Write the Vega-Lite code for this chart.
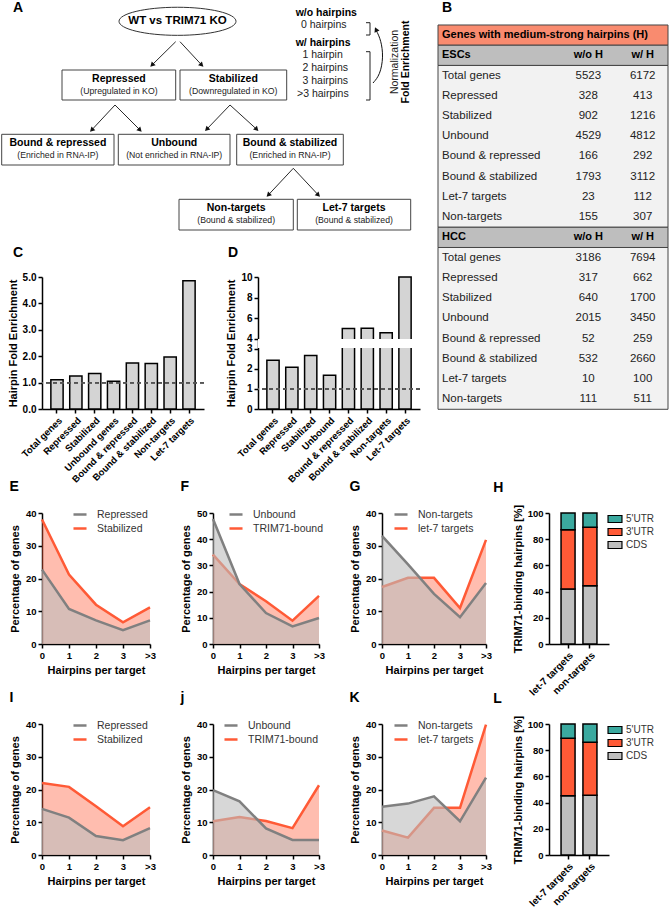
{
"$schema":"https://vega.github.io/schema/vega-lite/v6.json",
"background":"white",
"padding":{"left":1,"top":0,"right":0,"bottom":0},
"config":{
 "view":{"stroke":null},
 "font":"Liberation Sans",
 "axis":{"domainColor":"#000","domainWidth":1.5,"tickColor":"#000","tickWidth":1.5,"tickSize":4,"labelColor":"#000","labelFontWeight":"bold","labelFontSize":9.5,"labelPadding":2,"titleFontWeight":"bold","titleFontSize":11,"titleColor":"#000","grid":false},
 "title":{"fontSize":14,"fontWeight":"bold","anchor":"start","frame":"bounds","color":"#000","offset":13},
 "legend":{"title":null,"labelFontSize":10.5,"labelColor":"#333","labelFont":"Liberation Sans","padding":0,"orient":"none"}
},
"datasets":{
 "fbox":[
  {"x":62,"x2":175.7,"y":70,"y2":100},
  {"x":180,"x2":286.7,"y":70,"y2":100},
  {"x":1.7,"x2":114,"y":134.3,"y2":165},
  {"x":118.3,"x2":230,"y":134.3,"y2":165},
  {"x":236.7,"x2":343.3,"y":134.3,"y2":165},
  {"x":179,"x2":293.3,"y":199.3,"y2":230},
  {"x":297.3,"x2":410.7,"y":199.3,"y2":230}
 ],
 "ftext":[
  {"k":"letter","t":"A","x":13,"y":8},
  {"k":"letter","t":"C","x":13,"y":252.5},
  {"k":"letter","t":"D","x":228,"y":252.5},
  {"k":"wt","t":"WT vs TRIM71 KO","x":177.5,"y":21},
  {"k":"ttl","t":"Repressed","x":118.9,"y":79},
  {"k":"ttl","t":"Stabilized","x":233.3,"y":79},
  {"k":"ttl","t":"Bound & repressed","x":57.9,"y":143},
  {"k":"ttl","t":"Unbound","x":174.2,"y":143},
  {"k":"ttl","t":"Bound & stabilized","x":290,"y":143},
  {"k":"ttl","t":"Non-targets","x":236.2,"y":208},
  {"k":"ttl","t":"Let-7 targets","x":354,"y":208},
  {"k":"sub","t":"(Upregulated in KO)","x":118.9,"y":91},
  {"k":"sub","t":"(Downregulated in KO)","x":233.3,"y":91},
  {"k":"sub","t":"(Enriched in RNA-IP)","x":57.9,"y":155},
  {"k":"sub","t":"(Not enriched in RNA-IP)","x":174.2,"y":155},
  {"k":"sub","t":"(Enriched in RNA-IP)","x":290,"y":155},
  {"k":"sub","t":"(Bound & stabilized)","x":236.2,"y":220},
  {"k":"sub","t":"(Bound & stabilized)","x":354,"y":220},
  {"k":"head","t":"w/o hairpins","x":295.7,"y":12.7},
  {"k":"head","t":"w/ hairpins","x":295.7,"y":42.7},
  {"k":"item","t":"0 hairpins","x":301,"y":25},
  {"k":"item","t":"1 hairpin","x":302.5,"y":55},
  {"k":"item","t":"2 hairpins","x":302.5,"y":68.3},
  {"k":"item","t":"3 hairpins","x":302.5,"y":81},
  {"k":"item","t":">3 hairpins","x":297,"y":94},
  {"k":"rot","t":"Normalization","x":395,"y":62},
  {"k":"rotb","t":"Fold Enrichment","x":405.5,"y":62}
 ],
 "farrow":[
  {"x":175.7,"y":41.7,"x2":152,"y2":65,"d":"L"},
  {"x":180,"y":41.7,"x2":201.7,"y2":65,"d":"R"},
  {"x":115,"y":105,"x2":91.7,"y2":130,"d":"L"},
  {"x":115,"y":105,"x2":140,"y2":130,"d":"R"},
  {"x":230,"y":105,"x2":206.7,"y2":129.3,"d":"L"},
  {"x":230,"y":105,"x2":256.7,"y2":129.3,"d":"R"},
  {"x":293.3,"y":168.3,"x2":268.3,"y2":195,"d":"L"},
  {"x":293.3,"y":168.3,"x2":318.3,"y2":195,"d":"R"}
 ],
 "fbr":[
  {"x":370,"y":22.7,"x2":370,"y2":35},
  {"x":366,"y":22.7,"x2":370,"y2":22.7},
  {"x":366,"y":35,"x2":370,"y2":35},
  {"x":370,"y":51.7,"x2":370,"y2":100},
  {"x":366,"y":51.7,"x2":370,"y2":51.7},
  {"x":366,"y":100,"x2":370,"y2":100}
 ],
 "fcurve":[
  {"x":373,"y":83,"k":1},
  {"x":380,"y":75,"k":2},
  {"x":383.5,"y":57,"k":3},
  {"x":381,"y":40,"k":4},
  {"x":376.5,"y":31,"k":5}
 ],
 "tab":[
  {"r":0,"kind":"title","label":"Genes with medium-strong hairpins (H)","a":"","b":""},
  {"r":1,"kind":"head","label":"ESCs","a":"w/o H","b":"w/ H"},
  {"r":2,"kind":"body","label":"Total genes","a":"5523","b":"6172"},
  {"r":3,"kind":"body","label":"Repressed","a":"328","b":"413"},
  {"r":4,"kind":"body","label":"Stabilized","a":"902","b":"1216"},
  {"r":5,"kind":"body","label":"Unbound","a":"4529","b":"4812"},
  {"r":6,"kind":"body","label":"Bound & repressed","a":"166","b":"292"},
  {"r":7,"kind":"body","label":"Bound & stabilized","a":"1793","b":"3112"},
  {"r":8,"kind":"body","label":"Let-7 targets","a":"23","b":"112"},
  {"r":9,"kind":"body","label":"Non-targets","a":"155","b":"307"},
  {"r":10,"kind":"head","label":"HCC","a":"w/o H","b":"w/ H"},
  {"r":11,"kind":"body","label":"Total genes","a":"3186","b":"7694"},
  {"r":12,"kind":"body","label":"Repressed","a":"317","b":"662"},
  {"r":13,"kind":"body","label":"Stabilized","a":"640","b":"1700"},
  {"r":14,"kind":"body","label":"Unbound","a":"2015","b":"3450"},
  {"r":15,"kind":"body","label":"Bound & repressed","a":"52","b":"259"},
  {"r":16,"kind":"body","label":"Bound & stabilized","a":"532","b":"2660"},
  {"r":17,"kind":"body","label":"Let-7 targets","a":"10","b":"100"},
  {"r":18,"kind":"body","label":"Non-targets","a":"111","b":"511"}
 ],
 "tabr":[
  {"lo":-0.5,"hi":0.5,"kind":"title"},
  {"lo":0.5,"hi":1.5,"kind":"head"},
  {"lo":1.5,"hi":9.5,"kind":"body"},
  {"lo":9.5,"hi":10.5,"kind":"head"},
  {"lo":10.5,"hi":18.5,"kind":"body"}
 ],
 "C":[
  {"cat":"Total genes","v":1.11},
  {"cat":"Repressed","v":1.25},
  {"cat":"Stabilized","v":1.34},
  {"cat":"Unbound genes","v":1.05},
  {"cat":"Bound & repressed","v":1.74},
  {"cat":"Bound & stabilized","v":1.72},
  {"cat":"Non-targets","v":1.97},
  {"cat":"Let-7 targets","v":4.86}
 ],
 "D":[
  {"cat":"Total genes","v":2.42},
  {"cat":"Repressed","v":2.07},
  {"cat":"Stabilized","v":2.65},
  {"cat":"Unbound","v":1.67},
  {"cat":"Bound & repressed","v":4.97},
  {"cat":"Bound & stabilized","v":5.0},
  {"cat":"Non-targets","v":4.57},
  {"cat":"Let-7 targets","v":10}
 ],
 "E":[
  {"s":"Repressed","h":"0","p":22.7},{"s":"Repressed","h":"1","p":10.7},{"s":"Repressed","h":"2","p":7.2},{"s":"Repressed","h":"3","p":4.2},{"s":"Repressed","h":">3","p":7.2},
  {"s":"Stabilized","h":"0","p":38.0},{"s":"Stabilized","h":"1","p":21.2},{"s":"Stabilized","h":"2","p":12.0},{"s":"Stabilized","h":"3","p":6.6},{"s":"Stabilized","h":">3","p":11.2}
 ],
 "F":[
  {"s":"Unbound","h":"0","p":47.7},{"s":"Unbound","h":"1","p":22.9},{"s":"Unbound","h":"2","p":11.8},{"s":"Unbound","h":"3","p":6.7},{"s":"Unbound","h":">3","p":9.9},
  {"s":"TRIM71-bound","h":"0","p":34.1},{"s":"TRIM71-bound","h":"1","p":22.9},{"s":"TRIM71-bound","h":"2","p":16.3},{"s":"TRIM71-bound","h":"3","p":8.9},{"s":"TRIM71-bound","h":">3","p":18.4}
 ],
 "G":[
  {"s":"Non-targets","h":"0","p":33.0},{"s":"Non-targets","h":"1","p":24.3},{"s":"Non-targets","h":"2","p":15.3},{"s":"Non-targets","h":"3","p":8.2},{"s":"Non-targets","h":">3","p":18.6},
  {"s":"let-7 targets","h":"0","p":17.4},{"s":"let-7 targets","h":"1","p":20.2},{"s":"let-7 targets","h":"2","p":20.2},{"s":"let-7 targets","h":"3","p":11.0},{"s":"let-7 targets","h":">3","p":31.8}
 ],
 "I":[
  {"s":"Repressed","h":"0","p":14.1},{"s":"Repressed","h":"1","p":11.4},{"s":"Repressed","h":"2","p":5.8},{"s":"Repressed","h":"3","p":4.5},{"s":"Repressed","h":">3","p":8.2},
  {"s":"Stabilized","h":"0","p":22.0},{"s":"Stabilized","h":"1","p":20.8},{"s":"Stabilized","h":"2","p":14.9},{"s":"Stabilized","h":"3","p":8.8},{"s":"Stabilized","h":">3","p":14.6}
 ],
 "J":[
  {"s":"Unbound","h":"0","p":19.8},{"s":"Unbound","h":"1","p":16.4},{"s":"Unbound","h":"2","p":8.1},{"s":"Unbound","h":"3","p":4.6},{"s":"Unbound","h":">3","p":4.6},
  {"s":"TRIM71-bound","h":"0","p":10.3},{"s":"TRIM71-bound","h":"1","p":11.6},{"s":"TRIM71-bound","h":"2","p":10.4},{"s":"TRIM71-bound","h":"3","p":8.2},{"s":"TRIM71-bound","h":">3","p":21.3}
 ],
 "K":[
  {"s":"Non-targets","h":"0","p":14.7},{"s":"Non-targets","h":"1","p":15.7},{"s":"Non-targets","h":"2","p":17.9},{"s":"Non-targets","h":"3","p":10.3},{"s":"Non-targets","h":">3","p":23.6},
  {"s":"let-7 targets","h":"0","p":7.5},{"s":"let-7 targets","h":"1","p":5.3},{"s":"let-7 targets","h":"2","p":14.4},{"s":"let-7 targets","h":"3","p":14.4},{"s":"let-7 targets","h":">3","p":39.8}
 ],
 "H":[
  {"g":"let-7 targets","part":"CDS","lo":0,"hi":42},
  {"g":"let-7 targets","part":"3'UTR","lo":42,"hi":87.3},
  {"g":"let-7 targets","part":"5'UTR","lo":87.3,"hi":100},
  {"g":"non-targets","part":"CDS","lo":0,"hi":44.5},
  {"g":"non-targets","part":"3'UTR","lo":44.5,"hi":89.1},
  {"g":"non-targets","part":"5'UTR","lo":89.1,"hi":100}
 ],
 "L":[
  {"g":"let-7 targets","part":"CDS","lo":0,"hi":45.2},
  {"g":"let-7 targets","part":"3'UTR","lo":45.2,"hi":89.1},
  {"g":"let-7 targets","part":"5'UTR","lo":89.1,"hi":100},
  {"g":"non-targets","part":"CDS","lo":0,"hi":45.7},
  {"g":"non-targets","part":"3'UTR","lo":45.7,"hi":86.0},
  {"g":"non-targets","part":"5'UTR","lo":86.0,"hi":100}
 ]
},
"bounds":"flush",
"spacing":513,
"resolve":{"scale":{"color":"independent"},"legend":{"color":"independent"}},
"vconcat":[
 {"bounds":"flush","spacing":396,"resolve":{"scale":{"color":"independent"},"legend":{"color":"independent"}},"hconcat":[
  {"bounds":"flush","spacing":45,"vconcat":[
   {"width":380,"height":232,
    "layer":[
     {"data":{"name":"fbox"},"mark":{"type":"rect","fill":"white","stroke":"#444","strokeWidth":1},
      "encoding":{"x":{"field":"x","type":"quantitative","scale":{"domain":[42,422]},"axis":null},"x2":{"field":"x2"},
       "y":{"field":"y","type":"quantitative","scale":{"domain":[0,232],"reverse":true},"axis":null},"y2":{"field":"y2"}}},
     {"data":{"values":[{"x":177.5,"y":21.3}]},"mark":{"type":"point","shape":"M-1,0A1,0.24,0,1,1,1,0A1,0.24,0,1,1,-1,0Z","size":13689,"filled":false,"stroke":"#333","strokeWidth":1,"opacity":1},
      "encoding":{"x":{"field":"x","type":"quantitative","scale":{"domain":[42,422]},"axis":null},
       "y":{"field":"y","type":"quantitative","scale":{"domain":[0,232],"reverse":true},"axis":null}}},
     {"data":{"name":"farrow"},"mark":{"type":"rule","color":"#111","strokeWidth":0.9},
      "encoding":{"x":{"field":"x","type":"quantitative","scale":{"domain":[42,422]},"axis":null},"x2":{"field":"x2"},
       "y":{"field":"y","type":"quantitative","scale":{"domain":[0,232],"reverse":true},"axis":null},"y2":{"field":"y2"}}},
     {"data":{"name":"farrow"},"transform":[{"filter":"datum.d=='L'"}],"mark":{"type":"point","shape":"triangle-up","angle":225,"size":30,"filled":true,"color":"#111","opacity":1},
      "encoding":{"x":{"field":"x2","type":"quantitative","scale":{"domain":[42,422]},"axis":null},
       "y":{"field":"y2","type":"quantitative","scale":{"domain":[0,232],"reverse":true},"axis":null}}},
     {"data":{"name":"farrow"},"transform":[{"filter":"datum.d=='R'"}],"mark":{"type":"point","shape":"triangle-up","angle":135,"size":30,"filled":true,"color":"#111","opacity":1},
      "encoding":{"x":{"field":"x2","type":"quantitative","scale":{"domain":[42,422]},"axis":null},
       "y":{"field":"y2","type":"quantitative","scale":{"domain":[0,232],"reverse":true},"axis":null}}},
     {"data":{"name":"fbr"},"mark":{"type":"rule","color":"#222","strokeWidth":1},
      "encoding":{"x":{"field":"x","type":"quantitative","scale":{"domain":[42,422]},"axis":null},"x2":{"field":"x2"},
       "y":{"field":"y","type":"quantitative","scale":{"domain":[0,232],"reverse":true},"axis":null},"y2":{"field":"y2"}}},
     {"data":{"name":"fcurve"},"mark":{"type":"line","color":"#111","strokeWidth":1,"interpolate":"basis"},
      "encoding":{"x":{"field":"x","type":"quantitative","scale":{"domain":[42,422]},"axis":null},
       "y":{"field":"y","type":"quantitative","scale":{"domain":[0,232],"reverse":true},"axis":null},"order":{"field":"k"}}},
     {"data":{"values":[{"x":376,"y":29.5}]},"mark":{"type":"point","shape":"triangle-up","angle":335,"size":30,"filled":true,"color":"#111","opacity":1},
      "encoding":{"x":{"field":"x","type":"quantitative","scale":{"domain":[42,422]},"axis":null},
       "y":{"field":"y","type":"quantitative","scale":{"domain":[0,232],"reverse":true},"axis":null}}},
     {"data":{"name":"ftext"},"transform":[{"filter":"datum.k=='letter'"}],"mark":{"type":"text","fontSize":14,"fontWeight":"bold","align":"left","baseline":"middle","color":"#000"},
      "encoding":{"x":{"field":"x","type":"quantitative","scale":{"domain":[42,422]},"axis":null},
       "y":{"field":"y","type":"quantitative","scale":{"domain":[0,232],"reverse":true},"axis":null},"text":{"field":"t"}}},
     {"data":{"name":"ftext"},"transform":[{"filter":"datum.k=='wt'"}],"mark":{"type":"text","fontSize":11.5,"fontWeight":"bold","align":"center","baseline":"middle","color":"#000"},
      "encoding":{"x":{"field":"x","type":"quantitative","scale":{"domain":[42,422]},"axis":null},
       "y":{"field":"y","type":"quantitative","scale":{"domain":[0,232],"reverse":true},"axis":null},"text":{"field":"t"}}},
     {"data":{"name":"ftext"},"transform":[{"filter":"datum.k=='ttl'"}],"mark":{"type":"text","fontSize":10.5,"fontWeight":"bold","align":"center","baseline":"middle","color":"#000"},
      "encoding":{"x":{"field":"x","type":"quantitative","scale":{"domain":[42,422]},"axis":null},
       "y":{"field":"y","type":"quantitative","scale":{"domain":[0,232],"reverse":true},"axis":null},"text":{"field":"t"}}},
     {"data":{"name":"ftext"},"transform":[{"filter":"datum.k=='sub'"}],"mark":{"type":"text","fontSize":8.7,"align":"center","baseline":"middle","color":"#222"},
      "encoding":{"x":{"field":"x","type":"quantitative","scale":{"domain":[42,422]},"axis":null},
       "y":{"field":"y","type":"quantitative","scale":{"domain":[0,232],"reverse":true},"axis":null},"text":{"field":"t"}}},
     {"data":{"name":"ftext"},"transform":[{"filter":"datum.k=='head'"}],"mark":{"type":"text","fontSize":10.5,"fontWeight":"bold","align":"left","baseline":"middle","color":"#000"},
      "encoding":{"x":{"field":"x","type":"quantitative","scale":{"domain":[42,422]},"axis":null},
       "y":{"field":"y","type":"quantitative","scale":{"domain":[0,232],"reverse":true},"axis":null},"text":{"field":"t"}}},
     {"data":{"name":"ftext"},"transform":[{"filter":"datum.k=='item'"}],"mark":{"type":"text","fontSize":10.5,"align":"left","baseline":"middle","color":"#222"},
      "encoding":{"x":{"field":"x","type":"quantitative","scale":{"domain":[42,422]},"axis":null},
       "y":{"field":"y","type":"quantitative","scale":{"domain":[0,232],"reverse":true},"axis":null},"text":{"field":"t"}}},
     {"data":{"name":"ftext"},"transform":[{"filter":"datum.k=='rot'"}],"mark":{"type":"text","fontSize":10.5,"angle":270,"align":"center","baseline":"middle","color":"#222"},
      "encoding":{"x":{"field":"x","type":"quantitative","scale":{"domain":[42,422]},"axis":null},
       "y":{"field":"y","type":"quantitative","scale":{"domain":[0,232],"reverse":true},"axis":null},"text":{"field":"t"}}},
     {"data":{"name":"ftext"},"transform":[{"filter":"datum.k=='rotb'"}],"mark":{"type":"text","fontSize":10.5,"fontWeight":"bold","angle":270,"align":"center","baseline":"middle","color":"#000"},
      "encoding":{"x":{"field":"x","type":"quantitative","scale":{"domain":[42,422]},"axis":null},
       "y":{"field":"y","type":"quantitative","scale":{"domain":[0,232],"reverse":true},"axis":null},"text":{"field":"t"}}}
    ]},
   {"spacing":54,"bounds":"flush","hconcat":[
    {"width":162,"height":132,"data":{"name":"C"},
     "layer":[
      {"mark":{"type":"bar","fill":"#D4D4D4","stroke":"#000","strokeWidth":1.5},
       "encoding":{"x":{"field":"cat","type":"nominal","sort":null,"scale":{"paddingInner":0.35,"paddingOuter":0.47},"axis":{"title":null,"labelAngle":-45,"labelFontSize":9.5,"labelOverlap":false}},
        "y":{"field":"v","type":"quantitative","scale":{"domain":[0,5]},"axis":{"title":"Hairpin Fold Enrichment","values":[0,1,2,3,4,5],"format":".1f","labelFontSize":10,"titlePadding":4,"labelOverlap":false,"labelSeparation":0}}}},
      {"mark":{"type":"rule","strokeDash":[4,3],"color":"#555","strokeWidth":1.2},"encoding":{"y":{"datum":1,"type":"quantitative","scale":{"domain":[0,5]},"axis":{"title":"Hairpin Fold Enrichment","values":[0,1,2,3,4,5],"format":".1f","labelFontSize":10,"titlePadding":4,"labelOverlap":false,"labelSeparation":0}}}}
     ]},
    {"width":162,"height":132,"data":{"name":"D"},
     "layer":[
      {"mark":{"type":"bar","fill":"#D4D4D4","stroke":"#000","strokeWidth":1.5},
       "encoding":{"x":{"field":"cat","type":"nominal","sort":null,"scale":{"paddingInner":0.35,"paddingOuter":0.47},"axis":{"title":null,"labelAngle":-45,"labelFontSize":9.5,"labelOverlap":false}},
        "y":{"field":"v","type":"quantitative","scale":{"domain":[0,3,4,10],"range":[132,71.5,61.5,0]},"axis":{"title":"Hairpin Fold Enrichment","values":[0,1,2,3,4,6,8,10],"format":"d","labelFontSize":10,"titlePadding":4,"labelOverlap":false,"labelSeparation":0}}}},
      {"mark":{"type":"rect","color":"white","opacity":1},"encoding":{"y":{"datum":3.05,"type":"quantitative","scale":{"domain":[0,3,4,10],"range":[132,71.5,61.5,0]},"axis":{"title":"Hairpin Fold Enrichment","values":[0,1,2,3,4,6,8,10],"format":"d","labelFontSize":10,"titlePadding":4,"labelOverlap":false,"labelSeparation":0}},"y2":{"datum":3.95}}},
      {"mark":{"type":"rule","strokeDash":[4,3],"color":"#555","strokeWidth":1.2},"encoding":{"y":{"datum":1,"type":"quantitative","scale":{"domain":[0,3,4,10],"range":[132,71.5,61.5,0]},"axis":{"title":"Hairpin Fold Enrichment","values":[0,1,2,3,4,6,8,10],"format":"d","labelFontSize":10,"titlePadding":4,"labelOverlap":false,"labelSeparation":0}}}}
     ]}
   ]}
  ]},
  {"width":231,"height":410,
   "layer":[
    {"data":{"name":"tabr"},"mark":{"type":"rect","stroke":"#444","strokeWidth":1,"opacity":1},
     "encoding":{"x":{"datum":438,"type":"quantitative","scale":{"domain":[438,669]},"axis":null},"x2":{"datum":668},
      "y":{"field":"lo","type":"quantitative","scale":{"domain":[-1.736,18.535],"reverse":true},"axis":null},"y2":{"field":"hi"},
      "color":{"field":"kind","type":"nominal","scale":{"domain":["title","head","body"],"range":["#F98B6F","#BEBEBE","#F2F2F2"]},"legend":null}}},
    {"data":{"values":[{"t":"B"}]},"mark":{"type":"text","fontSize":14,"fontWeight":"bold","align":"left","baseline":"middle","color":"#000"},
     "encoding":{"x":{"datum":442,"type":"quantitative","scale":{"domain":[438,669]},"axis":null},
      "y":{"datum":-1.34,"type":"quantitative","scale":{"domain":[-1.736,18.535],"reverse":true},"axis":null},"text":{"field":"t"}}},
    {"data":{"name":"tab"},"transform":[{"filter":"datum.kind!='body'"}],"mark":{"type":"text","fontSize":11,"fontWeight":"bold","align":"left","baseline":"middle","color":"#000"},
     "encoding":{"x":{"datum":442,"type":"quantitative","scale":{"domain":[438,669]},"axis":null},
      "y":{"field":"r","type":"quantitative","scale":{"domain":[-1.736,18.535],"reverse":true},"axis":null},"text":{"field":"label"}}},
    {"data":{"name":"tab"},"transform":[{"filter":"datum.kind=='head'"}],"mark":{"type":"text","fontSize":11,"fontWeight":"bold","align":"center","baseline":"middle","color":"#000"},
     "encoding":{"x":{"datum":588.3,"type":"quantitative","scale":{"domain":[438,669]},"axis":null},
      "y":{"field":"r","type":"quantitative","scale":{"domain":[-1.736,18.535],"reverse":true},"axis":null},"text":{"field":"a"}}},
    {"data":{"name":"tab"},"transform":[{"filter":"datum.kind=='head'"}],"mark":{"type":"text","fontSize":11,"fontWeight":"bold","align":"center","baseline":"middle","color":"#000"},
     "encoding":{"x":{"datum":642.7,"type":"quantitative","scale":{"domain":[438,669]},"axis":null},
      "y":{"field":"r","type":"quantitative","scale":{"domain":[-1.736,18.535],"reverse":true},"axis":null},"text":{"field":"b"}}},
    {"data":{"name":"tab"},"transform":[{"filter":"datum.kind=='body'"}],"mark":{"type":"text","fontSize":11.5,"align":"left","baseline":"middle","color":"#222"},
     "encoding":{"x":{"datum":442,"type":"quantitative","scale":{"domain":[438,669]},"axis":null},
      "y":{"field":"r","type":"quantitative","scale":{"domain":[-1.736,18.535],"reverse":true},"axis":null},"text":{"field":"label"}}},
    {"data":{"name":"tab"},"transform":[{"filter":"datum.kind=='body'"}],"mark":{"type":"text","fontSize":11.5,"align":"center","baseline":"middle","color":"#222"},
     "encoding":{"x":{"datum":588.3,"type":"quantitative","scale":{"domain":[438,669]},"axis":null},
      "y":{"field":"r","type":"quantitative","scale":{"domain":[-1.736,18.535],"reverse":true},"axis":null},"text":{"field":"a"}}},
    {"data":{"name":"tab"},"transform":[{"filter":"datum.kind=='body'"}],"mark":{"type":"text","fontSize":11.5,"align":"center","baseline":"middle","color":"#222"},
     "encoding":{"x":{"datum":642.7,"type":"quantitative","scale":{"domain":[438,669]},"axis":null},
      "y":{"field":"r","type":"quantitative","scale":{"domain":[-1.736,18.535],"reverse":true},"axis":null},"text":{"field":"b"}}}
   ]}
 ]},
 {"resolve":{"scale":{"color":"independent"},"legend":{"color":"independent"}},"concat":[
  {"title":{"text":"E"},"width":108,"height":131,"data":{"name":"E"},
   "encoding":{"x":{"field":"h","type":"ordinal","scale":{"type":"point","padding":0,"domain":["0","1","2","3",">3"]},"axis":{"title":"Hairpins per target","labelAngle":0,"titlePadding":5}},
    "y":{"field":"p","type":"quantitative","scale":{"domain":[0,40]},"axis":{"title":"Percentage of genes","values":[0,10,20,30,40],"titlePadding":5,"labelOverlap":false}}},
   "layer":[
    {"transform":[{"filter":"datum.s=='Stabilized'"}],"mark":{"type":"area","color":"#FF5A36","opacity":0.4}},
    {"transform":[{"filter":"datum.s=='Stabilized'"}],"mark":{"type":"line","strokeWidth":2.5},"encoding":{"color":{"field":"s","type":"nominal","scale":{"domain":["Repressed","Stabilized"],"range":["#808080","#FF5A36"]},"legend":{"legendX":30,"legendY":-6.5,"symbolType":"stroke","symbolStrokeWidth":2.5,"symbolSize":170,"labelOffset":9,"rowPadding":0}}}},
    {"transform":[{"filter":"datum.s=='Repressed'"}],"mark":{"type":"area","color":"#BDBDBD","opacity":0.6}},
    {"transform":[{"filter":"datum.s=='Repressed'"}],"mark":{"type":"line","strokeWidth":2.5},"encoding":{"color":{"field":"s","type":"nominal","scale":{"domain":["Repressed","Stabilized"],"range":["#808080","#FF5A36"]},"legend":{"legendX":30,"legendY":-6.5,"symbolType":"stroke","symbolStrokeWidth":2.5,"symbolSize":170,"labelOffset":9,"rowPadding":0}}}}
   ]},
  {"title":{"text":"F"},"width":106,"height":131,"data":{"name":"F"},
   "encoding":{"x":{"field":"h","type":"ordinal","scale":{"type":"point","padding":0,"domain":["0","1","2","3",">3"]},"axis":{"title":"Hairpins per target","labelAngle":0,"titlePadding":5}},
    "y":{"field":"p","type":"quantitative","scale":{"domain":[0,50]},"axis":{"title":"Percentage of genes","values":[0,10,20,30,40,50],"titlePadding":5,"labelOverlap":false}}},
   "layer":[
    {"transform":[{"filter":"datum.s=='TRIM71-bound'"}],"mark":{"type":"area","color":"#FF5A36","opacity":0.4}},
    {"transform":[{"filter":"datum.s=='TRIM71-bound'"}],"mark":{"type":"line","strokeWidth":2.5},"encoding":{"color":{"field":"s","type":"nominal","scale":{"domain":["Unbound","TRIM71-bound"],"range":["#808080","#FF5A36"]},"legend":{"legendX":15,"legendY":-6.5,"symbolType":"stroke","symbolStrokeWidth":2.5,"symbolSize":170,"labelOffset":9,"rowPadding":0}}}},
    {"transform":[{"filter":"datum.s=='Unbound'"}],"mark":{"type":"area","color":"#BDBDBD","opacity":0.6}},
    {"transform":[{"filter":"datum.s=='Unbound'"}],"mark":{"type":"line","strokeWidth":2.5},"encoding":{"color":{"field":"s","type":"nominal","scale":{"domain":["Unbound","TRIM71-bound"],"range":["#808080","#FF5A36"]},"legend":{"legendX":15,"legendY":-6.5,"symbolType":"stroke","symbolStrokeWidth":2.5,"symbolSize":170,"labelOffset":9,"rowPadding":0}}}}
   ]},
  {"title":{"text":"G"},"width":104,"height":131,"data":{"name":"G"},
   "encoding":{"x":{"field":"h","type":"ordinal","scale":{"type":"point","padding":0,"domain":["0","1","2","3",">3"]},"axis":{"title":"Hairpins per target","labelAngle":0,"titlePadding":5}},
    "y":{"field":"p","type":"quantitative","scale":{"domain":[0,40]},"axis":{"title":"Percentage of genes","values":[0,10,20,30,40],"titlePadding":5,"labelOverlap":false}}},
   "layer":[
    {"transform":[{"filter":"datum.s=='let-7 targets'"}],"mark":{"type":"area","color":"#FF5A36","opacity":0.4}},
    {"transform":[{"filter":"datum.s=='let-7 targets'"}],"mark":{"type":"line","strokeWidth":2.5},"encoding":{"color":{"field":"s","type":"nominal","scale":{"domain":["Non-targets","let-7 targets"],"range":["#808080","#FF5A36"]},"legend":{"legendX":11,"legendY":-6.5,"symbolType":"stroke","symbolStrokeWidth":2.5,"symbolSize":170,"labelOffset":9,"rowPadding":0}}}},
    {"transform":[{"filter":"datum.s=='Non-targets'"}],"mark":{"type":"area","color":"#BDBDBD","opacity":0.6}},
    {"transform":[{"filter":"datum.s=='Non-targets'"}],"mark":{"type":"line","strokeWidth":2.5},"encoding":{"color":{"field":"s","type":"nominal","scale":{"domain":["Non-targets","let-7 targets"],"range":["#808080","#FF5A36"]},"legend":{"legendX":11,"legendY":-6.5,"symbolType":"stroke","symbolStrokeWidth":2.5,"symbolSize":170,"labelOffset":9,"rowPadding":0}}}}
   ]},
  {"title":{"text":"H","dx":-19,"offset":9},"width":60,"height":131,"data":{"name":"H"},
   "mark":{"type":"bar","stroke":"#000","strokeWidth":1.5},
   "encoding":{"x":{"field":"g","type":"nominal","sort":null,"scale":{"paddingInner":0.36,"paddingOuter":0.55},"axis":{"title":null,"labelAngle":-45,"labelFontSize":10,"labelOverlap":false}},
    "y":{"field":"lo","type":"quantitative","scale":{"domain":[0,100]},"axis":{"title":"TRIM71-binding hairpins [%]","values":[0,20,40,60,80,100],"titlePadding":4,"labelOverlap":false}},
    "y2":{"field":"hi"},
    "color":{"field":"part","type":"nominal","scale":{"domain":["5'UTR","3'UTR","CDS"],"range":["#3BA99F","#FF5A36","#BFBFBF"]},"legend":{"legendX":59,"legendY":-1,"symbolType":"M-1.1,-0.55H1.1V0.55H-1.1Z","symbolSize":160,"symbolStrokeColor":"#000","symbolStrokeWidth":1.2,"labelOffset":4,"rowPadding":0,"labelFontSize":10}}}},
  {"title":{"text":"I"},"width":108,"height":131,"data":{"name":"I"},
   "encoding":{"x":{"field":"h","type":"ordinal","scale":{"type":"point","padding":0,"domain":["0","1","2","3",">3"]},"axis":{"title":"Hairpins per target","labelAngle":0,"titlePadding":5}},
    "y":{"field":"p","type":"quantitative","scale":{"domain":[0,40]},"axis":{"title":"Percentage of genes","values":[0,10,20,30,40],"titlePadding":5,"labelOverlap":false}}},
   "layer":[
    {"transform":[{"filter":"datum.s=='Stabilized'"}],"mark":{"type":"area","color":"#FF5A36","opacity":0.4}},
    {"transform":[{"filter":"datum.s=='Stabilized'"}],"mark":{"type":"line","strokeWidth":2.5},"encoding":{"color":{"field":"s","type":"nominal","scale":{"domain":["Repressed","Stabilized"],"range":["#808080","#FF5A36"]},"legend":{"legendX":30,"legendY":-6.5,"symbolType":"stroke","symbolStrokeWidth":2.5,"symbolSize":170,"labelOffset":9,"rowPadding":0}}}},
    {"transform":[{"filter":"datum.s=='Repressed'"}],"mark":{"type":"area","color":"#BDBDBD","opacity":0.6}},
    {"transform":[{"filter":"datum.s=='Repressed'"}],"mark":{"type":"line","strokeWidth":2.5},"encoding":{"color":{"field":"s","type":"nominal","scale":{"domain":["Repressed","Stabilized"],"range":["#808080","#FF5A36"]},"legend":{"legendX":30,"legendY":-6.5,"symbolType":"stroke","symbolStrokeWidth":2.5,"symbolSize":170,"labelOffset":9,"rowPadding":0}}}}
   ]},
  {"title":{"text":"j"},"width":106,"height":131,"data":{"name":"J"},
   "encoding":{"x":{"field":"h","type":"ordinal","scale":{"type":"point","padding":0,"domain":["0","1","2","3",">3"]},"axis":{"title":"Hairpins per target","labelAngle":0,"titlePadding":5}},
    "y":{"field":"p","type":"quantitative","scale":{"domain":[0,40]},"axis":{"title":"Percentage of genes","values":[0,10,20,30,40],"titlePadding":5,"labelOverlap":false}}},
   "layer":[
    {"transform":[{"filter":"datum.s=='TRIM71-bound'"}],"mark":{"type":"area","color":"#FF5A36","opacity":0.4}},
    {"transform":[{"filter":"datum.s=='TRIM71-bound'"}],"mark":{"type":"line","strokeWidth":2.5},"encoding":{"color":{"field":"s","type":"nominal","scale":{"domain":["Unbound","TRIM71-bound"],"range":["#808080","#FF5A36"]},"legend":{"legendX":10,"legendY":-6.5,"symbolType":"stroke","symbolStrokeWidth":2.5,"symbolSize":170,"labelOffset":9,"rowPadding":0}}}},
    {"transform":[{"filter":"datum.s=='Unbound'"}],"mark":{"type":"area","color":"#BDBDBD","opacity":0.6}},
    {"transform":[{"filter":"datum.s=='Unbound'"}],"mark":{"type":"line","strokeWidth":2.5},"encoding":{"color":{"field":"s","type":"nominal","scale":{"domain":["Unbound","TRIM71-bound"],"range":["#808080","#FF5A36"]},"legend":{"legendX":10,"legendY":-6.5,"symbolType":"stroke","symbolStrokeWidth":2.5,"symbolSize":170,"labelOffset":9,"rowPadding":0}}}}
   ]},
  {"title":{"text":"K"},"width":104,"height":131,"data":{"name":"K"},
   "encoding":{"x":{"field":"h","type":"ordinal","scale":{"type":"point","padding":0,"domain":["0","1","2","3",">3"]},"axis":{"title":"Hairpins per target","labelAngle":0,"titlePadding":5}},
    "y":{"field":"p","type":"quantitative","scale":{"domain":[0,40]},"axis":{"title":"Percentage of genes","values":[0,10,20,30,40],"titlePadding":5,"labelOverlap":false}}},
   "layer":[
    {"transform":[{"filter":"datum.s=='let-7 targets'"}],"mark":{"type":"area","color":"#FF5A36","opacity":0.4}},
    {"transform":[{"filter":"datum.s=='let-7 targets'"}],"mark":{"type":"line","strokeWidth":2.5},"encoding":{"color":{"field":"s","type":"nominal","scale":{"domain":["Non-targets","let-7 targets"],"range":["#808080","#FF5A36"]},"legend":{"legendX":11,"legendY":-6.5,"symbolType":"stroke","symbolStrokeWidth":2.5,"symbolSize":170,"labelOffset":9,"rowPadding":0}}}},
    {"transform":[{"filter":"datum.s=='Non-targets'"}],"mark":{"type":"area","color":"#BDBDBD","opacity":0.6}},
    {"transform":[{"filter":"datum.s=='Non-targets'"}],"mark":{"type":"line","strokeWidth":2.5},"encoding":{"color":{"field":"s","type":"nominal","scale":{"domain":["Non-targets","let-7 targets"],"range":["#808080","#FF5A36"]},"legend":{"legendX":11,"legendY":-6.5,"symbolType":"stroke","symbolStrokeWidth":2.5,"symbolSize":170,"labelOffset":9,"rowPadding":0}}}}
   ]},
  {"title":{"text":"L","dx":-19,"offset":9},"width":60,"height":131,"data":{"name":"L"},
   "mark":{"type":"bar","stroke":"#000","strokeWidth":1.5},
   "encoding":{"x":{"field":"g","type":"nominal","sort":null,"scale":{"paddingInner":0.36,"paddingOuter":0.55},"axis":{"title":null,"labelAngle":-45,"labelFontSize":10,"labelOverlap":false}},
    "y":{"field":"lo","type":"quantitative","scale":{"domain":[0,100]},"axis":{"title":"TRIM71-binding hairpins [%]","values":[0,20,40,60,80,100],"titlePadding":4,"labelOverlap":false}},
    "y2":{"field":"hi"},
    "color":{"field":"part","type":"nominal","scale":{"domain":["5'UTR","3'UTR","CDS"],"range":["#3BA99F","#FF5A36","#BFBFBF"]},"legend":{"legendX":59,"legendY":-1,"symbolType":"M-1.1,-0.55H1.1V0.55H-1.1Z","symbolSize":160,"symbolStrokeColor":"#000","symbolStrokeWidth":1.2,"labelOffset":4,"rowPadding":0,"labelFontSize":10}}}}
 ],"columns":4,"bounds":"flush","align":"each","spacing":{"row":80,"column":63}}
]
}
